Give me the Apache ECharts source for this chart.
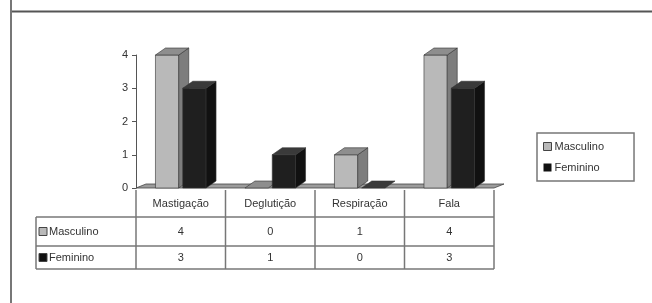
<!DOCTYPE html>
<html>
<head>
<meta charset="utf-8">
<script src="https://cdn.jsdelivr.net/npm/echarts@6/dist/echarts.min.js"></script>
<style>
  html, body { margin: 0; padding: 0; background: #fff; }
  #main { width: 652px; height: 303px; }
</style>
</head>
<body>
<div id="main"></div>
<script>
var titleText = 'Funções estomatognáticas alteradas';
var categories = ['Mastigação', 'Deglutição', 'Respiração', 'Fala'];
var seriesNames = ['Masculino', 'Feminino'];
var masculino = [4, 0, 1, 4];
var feminino = [3, 1, 0, 3];
var yTicks = [0, 1, 2, 3, 4];

var FONT = 'Liberation Sans, Arial, sans-serif';
var DX = 10, DY = 7;
// front, top, side
var mascColors = ['#b9b9b9', '#8e8e8e', '#7d7d7d'];
var femColors = ['#1f1f1f', '#3a3a3a', '#111111'];

function bar3d(side, colors) {
  return function (params, api) {
    var cat = api.value(0), val = api.value(1);
    var top = api.coord([cat, val]);
    var base = api.coord([cat, 0]);
    var band = api.size([1, 0])[0];
    var w = band * 0.26, gap = band * 0.045;
    var x0 = side < 0 ? top[0] - gap / 2 - w : top[0] + gap / 2;
    var yt = top[1], yb = base[1];
    var kids = [];
    if (yb - yt > 0.5) {
      kids.push({ type: 'rect', shape: { x: x0, y: yt, width: w, height: yb - yt },
        style: { fill: colors[0], stroke: '#333', lineWidth: 0.6 } });
      kids.push({ type: 'polygon', shape: { points: [[x0 + w, yt], [x0 + w + DX, yt - DY], [x0 + w + DX, yb - DY], [x0 + w, yb]] },
        style: { fill: colors[2], stroke: '#333', lineWidth: 0.6 } });
    }
    kids.push({ type: 'polygon', shape: { points: [[x0, yt], [x0 + DX, yt - DY], [x0 + w + DX, yt - DY], [x0 + w, yt]] },
      style: { fill: colors[1], stroke: '#333', lineWidth: 0.6 } });
    return { type: 'group', children: kids };
  };
}

function floor(params, api) {
  var cs = params.coordSys;
  var yb = cs.y + cs.height;
  return {
    type: 'polygon',
    shape: { points: [[cs.x, yb], [cs.x + DX, yb - 4], [cs.x + cs.width + DX, yb - 4], [cs.x + cs.width, yb]] },
    style: { fill: '#9c9c9c', stroke: '#444', lineWidth: 0.8 },
    z2: -10
  };
}

var dom = document.getElementById('main');
var myChart = echarts.init(dom, null, { renderer: 'canvas' });

var option = {
  animation: false,
  backgroundColor: '#fff',
  grid: { left: 136, right: 158, top: 55, bottom: 115 },
  legend: {
    orient: 'vertical',
    left: 537, top: 133,
    padding: [8, 30, 8, 6],
    itemGap: 10,
    itemWidth: 8, itemHeight: 8,
    borderColor: '#777', borderWidth: 1.5,
    textStyle: { fontFamily: FONT, fontSize: 11, color: '#333', padding: [0, 0, 0, -2] },
    data: [
      { name: seriesNames[0], icon: 'rect', itemStyle: { color: mascColors[0], borderColor: '#444', borderWidth: 1 } },
      { name: seriesNames[1], icon: 'rect', itemStyle: { color: '#111' } }
    ]
  },
  xAxis: {
    type: 'category', data: categories,
    axisLine: { show: false }, axisTick: { show: false }, axisLabel: { show: false }
  },
  yAxis: {
    type: 'value', min: 0, max: 4, interval: 1,
    axisLine: { show: true, lineStyle: { color: '#555', width: 1 } },
    axisTick: { show: true, length: 4, lineStyle: { color: '#555' } },
    axisLabel: { fontFamily: FONT, fontSize: 11, color: '#333', margin: 8,
      formatter: function (v) { return yTicks.indexOf(v) >= 0 ? String(v) : ''; } },
    splitLine: { show: false }
  },
  series: [
    { type: 'custom', name: '__floor', renderItem: floor, data: [[0, 0]], silent: true, z: 1 },
    { type: 'custom', name: seriesNames[0], renderItem: bar3d(-1, mascColors), itemStyle: { color: mascColors[0] },
      data: masculino.map(function (v, i) { return [i, v]; }), z: 2 },
    { type: 'custom', name: seriesNames[1], renderItem: bar3d(1, femColors), itemStyle: { color: femColors[0] },
      data: feminino.map(function (v, i) { return [i, v]; }), z: 3 }
  ]
};
myChart.setOption(option);

// table, frame and title
var c0 = myChart.convertToPixel({ xAxisIndex: 0 }, 0);
var c1 = myChart.convertToPixel({ xAxisIndex: 0 }, 1);
var band = c1 - c0;
var gx0 = c0 - band / 2;
var gx1 = gx0 + band * categories.length;
var y0 = myChart.convertToPixel({ yAxisIndex: 0 }, 0);
var rowY = [y0 + 2, y0 + 29, y0 + 58, y0 + 81];
var leftX = 36;
var lineStyle = { stroke: '#777', lineWidth: 1.5 };
var g = [];

function line(x1, y1, x2, y2, st) {
  g.push({ type: 'line', shape: { x1: x1, y1: y1, x2: x2, y2: y2 }, style: st || lineStyle, z: 10 });
}
function text(x, y, s, align) {
  g.push({ type: 'text', x: x, y: y, style: { text: s, fontFamily: FONT, fontSize: 11, fill: '#333',
    align: align || 'center', verticalAlign: 'middle' }, z: 10 });
}

// verticals
for (var k = 0; k <= categories.length; k++) {
  line(gx0 + k * band, rowY[0], gx0 + k * band, rowY[3]);
}
line(leftX, rowY[1], leftX, rowY[3]);
for (var r = 1; r < rowY.length; r++) line(leftX, rowY[r], gx1, rowY[r]);

categories.forEach(function (c, i) {
  var cx = gx0 + (i + 0.5) * band;
  text(cx, (rowY[0] + rowY[1]) / 2, c);
  text(cx, (rowY[1] + rowY[2]) / 2, String(masculino[i]));
  text(cx, (rowY[2] + rowY[3]) / 2, String(feminino[i]));
});
var keyFills = [mascColors[0], '#111'];
seriesNames.forEach(function (n, i) {
  var cy = (rowY[i + 1] + rowY[i + 2]) / 2;
  g.push({ type: 'rect', shape: { x: 39, y: cy - 4, width: 8, height: 8 },
    style: { fill: keyFills[i], stroke: '#444', lineWidth: 1 }, z: 10 });
  text(49, cy, n, 'left');
});

// frame
line(11, 11.5, 652, 11.5, { stroke: '#555', lineWidth: 2 });
line(11, 0, 11, 303, { stroke: '#777', lineWidth: 2 });
// title, mostly cut off at the top edge
g.push({ type: 'text', x: 271, y: 0, style: { text: titleText, fontFamily: FONT, fontSize: 12, fill: '#999',
  align: 'center', verticalAlign: 'bottom' }, z: 10 });

myChart.setOption({ graphic: g });
window.addEventListener('resize', myChart.resize);
</script>
</body>
</html>
